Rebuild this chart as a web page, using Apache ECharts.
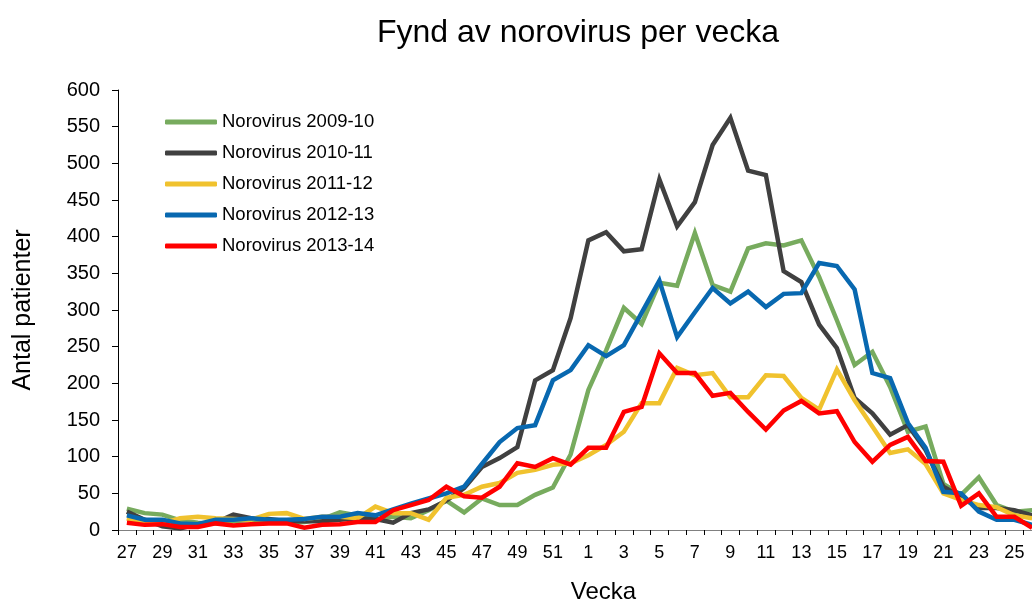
<!DOCTYPE html>
<html>
<head>
<meta charset="utf-8">
<script src="https://cdn.jsdelivr.net/npm/echarts@6/dist/echarts.min.js"></script>
<style>
html,body{margin:0;padding:0;background:#fff;}
#c{width:1032px;height:602px;}
</style>
</head>
<body>
<div id="c"></div>
<script>
const weeks = ['27','28','29','30','31','32','33','34','35','36','37','38','39','40','41','42','43','44','45','46','47','48','49','50','51','52',
  '1','2','3','4','5','6','7','8','9','10','11','12','13','14','15','16','17','18','19','20','21','22','23','24','25','26'];

const s2009 = [29,23,21,13,10,9,12,14,12,10,11,15,24,20,14,18,16,27,40,24,43,34,34,48,58,103,
  191,245,303,281,337,333,405,334,325,384,391,388,395,345,286,225,243,195,134,141,63,48,72,34,25,27];
const s2010 = [25,14,5,2,8,10,21,16,15,12,12,12,14,16,15,10,23,28,40,57,86,98,113,204,218,289,
  395,406,380,383,478,414,447,525,562,490,484,353,338,280,248,180,159,130,143,109,59,45,30,30,27,20];
const s2011 = [16,9,9,16,18,16,15,14,22,23,15,18,18,16,32,23,23,14,44,48,59,64,78,82,89,91,
  102,116,134,173,173,221,211,214,181,181,211,210,180,164,219,177,141,105,110,90,50,41,34,31,20,16];
const s2012 = [20,14,14,9,8,14,14,16,14,14,15,18,18,23,20,28,36,43,50,59,90,120,139,143,204,218,
  252,237,252,296,340,263,297,330,309,325,304,322,323,364,360,328,214,207,146,112,52,50,25,14,14,7];
const s2013 = [10,7,8,4,4,9,6,8,9,9,3,7,8,11,11,27,34,41,59,46,44,59,91,86,98,89,
  112,112,161,168,241,214,214,183,187,161,137,163,176,159,162,120,93,116,127,94,93,33,50,18,18,3];

const seriesNames = ['Norovirus 2009-10','Norovirus 2010-11','Norovirus 2011-12','Norovirus 2012-13','Norovirus 2013-14'];
const seriesColors = ['#77AB5E','#404040','#F0C22E','#0868B0','#FF0000'];
const seriesData = [s2009, s2010, s2011, s2012, s2013];

const chart = echarts.init(document.getElementById('c'), null, {renderer:'canvas'});
const FONT = 'Liberation Sans, Arial, sans-serif';
chart.setOption({
  animation:false,
  backgroundColor:'#fff',
  title:{
    text:'Fynd av norovirus per vecka',
    left:573, top:12, textAlign:'center',
    textStyle:{fontFamily:FONT,fontSize:32,fontWeight:'normal',color:'#000'}
  },
  legend:{
    orient:'vertical', left:165, top:112, padding:0,
    itemWidth:52, itemHeight:5, itemGap:11,
    icon:'roundRect',
    textStyle:{fontFamily:FONT,fontSize:18.5,color:'#000',lineHeight:20},
    data:seriesNames
  },
  grid:{left:118, right:-9, top:90, bottom:72, containLabel:false, outerBoundsMode:'none'},
  xAxis:{
    type:'category', data:weeks, boundaryGap:true,
    name:'Vecka', nameLocation:'middle', nameGap:50,
    nameTextStyle:{fontFamily:FONT,fontSize:24,color:'#000',padding:[0,0,0,48]},
    axisLine:{lineStyle:{color:'#808080',width:1}},
    axisTick:{show:true,interval:0,length:5,lineStyle:{color:'#000'}},
    axisLabel:{interval:1,fontFamily:FONT,fontSize:18,color:'#000',margin:14},
    splitLine:{show:false}
  },
  yAxis:{
    type:'value', min:0, max:600, interval:50,
    name:'Antal patienter', nameLocation:'middle', nameGap:82, nameRotate:90,
    nameTextStyle:{fontFamily:FONT,fontSize:25,color:'#000'},
    axisLine:{show:true,lineStyle:{color:'#000',width:1}},
    axisTick:{show:true,length:6,lineStyle:{color:'#000'}},
    axisLabel:{fontFamily:FONT,fontSize:20,color:'#000',margin:18},
    splitLine:{show:false}
  },
  series: seriesNames.map((n,i)=>({
    name:n, type:'line', data:seriesData[i], symbol:'none',
    color:seriesColors[i],
    lineStyle:{width:4.5,color:seriesColors[i],join:'miter'},
    clip:true
  }))
});
</script>
</body>
</html>
